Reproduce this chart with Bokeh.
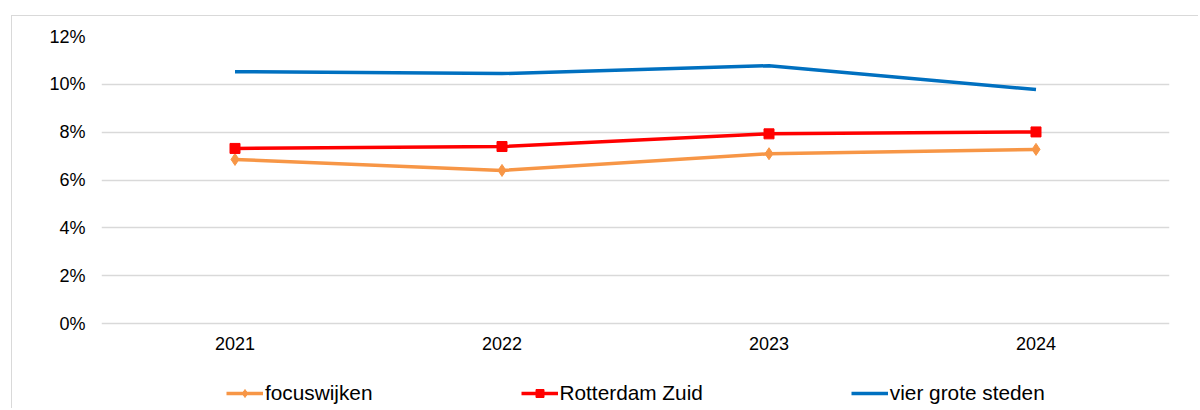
from bokeh.plotting import figure
from bokeh.models import FactorRange, Range1d, NumeralTickFormatter, FixedTicker, Legend, LegendItem
from bokeh.embed import file_html
from bokeh.resources import INLINE

years = ["2021", "2022", "2023", "2024"]
focuswijken = [0.0686, 0.0640, 0.0710, 0.0728]
rotterdam_zuid = [0.0732, 0.0740, 0.0793, 0.0801]
vier_grote_steden = [0.1053, 0.1045, 0.1078, 0.0978]
y_ticks = [0, 0.02, 0.04, 0.06, 0.08, 0.10, 0.12]

FONT = "Liberation Sans"

# plot area: 0.12 at top of frame, 0 located 287 px lower; frame continues
# 86 px below the zero line to hold the category labels and the legend
Y_MAX = 0.12
Y_MIN = -Y_MAX * 86 / 287

p = figure(width=1187, height=393, output_backend="svg", toolbar_location=None,
           x_range=FactorRange(factors=years, range_padding=0),
           y_range=Range1d(Y_MIN, Y_MAX),
           min_border_left=89, min_border_right=30, min_border_top=20, min_border_bottom=0)
p.styles = {"margin-left": "11px", "margin-top": "15px",
            "border-left": "1px solid #d9d9d9", "border-top": "1px solid #d9d9d9"}
p.outline_line_color = None
p.xgrid.grid_line_color = None
p.ygrid.grid_line_color = "#d9d9d9"
p.ygrid.grid_line_width = 1.3

p.yaxis.ticker = FixedTicker(ticks=y_ticks)
p.yaxis.formatter = NumeralTickFormatter(format="0%")
p.xaxis.fixed_location = 0
for ax in (p.xaxis[0], p.yaxis[0]):
    ax.axis_line_color = None
    ax.major_tick_line_color = None
    ax.minor_tick_line_color = None
    ax.major_tick_out = 0
    ax.major_tick_in = 0
    ax.major_label_text_font = FONT
    ax.major_label_text_font_size = "18px"
    ax.major_label_text_color = "#000000"
p.yaxis.major_label_standoff = 16
p.xaxis.major_label_standoff = 13

c_or = "#F79646"
c_red = "#FF0000"
c_blue = "#0070C0"

l1 = p.line(years, focuswijken, line_color=c_or, line_width=3.5)
m1 = p.scatter(years, focuswijken, marker="diamond", size=12,
               fill_color=c_or, line_color=c_or)
l2 = p.line(years, rotterdam_zuid, line_color=c_red, line_width=3.5)
m2 = p.scatter(years, rotterdam_zuid, marker="square", size=10, fill_color=c_red, line_color=c_red)
l3 = p.line(years, vier_grote_steden, line_color=c_blue, line_width=3.5)

legend = Legend(items=[LegendItem(label="focuswijken", renderers=[l1, m1]),
                       LegendItem(label="Rotterdam Zuid", renderers=[l2, m2]),
                       LegendItem(label="vier grote steden", renderers=[l3])],
                location=(125, 4), orientation="horizontal",
                border_line_color=None, background_fill_alpha=0,
                padding=0, margin=0, spacing=148, glyph_width=37, glyph_height=20,
                label_height=20, label_standoff=2,
                label_text_font=FONT, label_text_font_size="20.8px", label_text_color="#000000")
p.add_layout(legend, "center")

open("out.html", "w").write(file_html(p, INLINE))
